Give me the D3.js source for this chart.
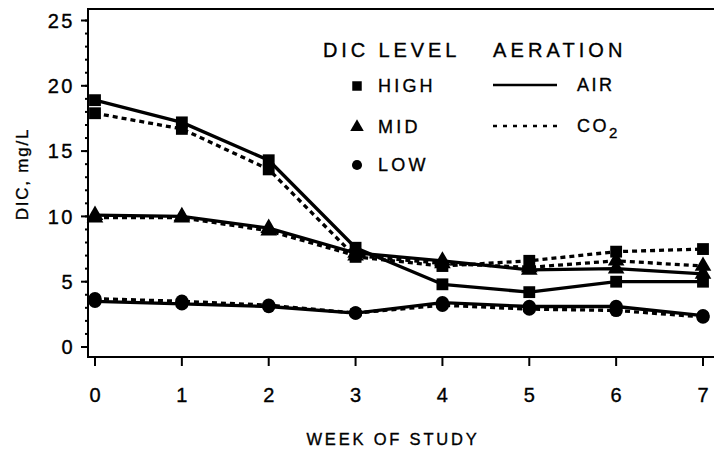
<!DOCTYPE html>
<html>
<head>
<meta charset="utf-8">
<script src="https://cdn.jsdelivr.net/npm/d3@7"></script>
<style>
  html, body { margin: 0; padding: 0; background: #fff; }
  svg { display: block; }
  text { font-family: "Liberation Sans", Arial, Helvetica, sans-serif; fill: #000; stroke: #000; stroke-width: 0.35px; }
</style>
</head>
<body>
<svg id="chart" width="714" height="451"></svg>
<script>
// Weeks of the study
const weeks = [0, 1, 2, 3, 4, 5, 6, 7];

// DIC (mg/L) by DIC level and aeration treatment
const highAir = [18.9, 17.2, 14.3, 7.6, 4.8, 4.2, 5.0, 5.0];
const highCO2 = [17.9, 16.7, 13.6, 6.9, 6.2, 6.6, 7.3, 7.5];
const midAir  = [10.1, 10.0, 9.1, 7.2, 6.6, 5.9, 6.0, 5.6];
const midCO2  = [9.9, 9.9, 8.9, 7.0, 6.4, 6.1, 6.6, 6.2];
const lowAir  = [3.5, 3.3, 3.1, 2.6, 3.4, 3.1, 3.1, 2.4];
const lowCO2  = [3.7, 3.5, 3.2, 2.6, 3.2, 2.9, 2.8, 2.3];

const yTicks = [0, 5, 10, 15, 20, 25];
const xTicks = [0, 1, 2, 3, 4, 5, 6, 7];

const series = [
  { level: "HIGH", aeration: "AIR", values: highAir },
  { level: "HIGH", aeration: "CO2", values: highCO2 },
  { level: "MID",  aeration: "AIR", values: midAir },
  { level: "MID",  aeration: "CO2", values: midCO2 },
  { level: "LOW",  aeration: "AIR", values: lowAir },
  { level: "LOW",  aeration: "CO2", values: lowCO2 }
];

const svg = d3.select("#chart");

// Plot frame
const frame = { left: 88, right: 722, top: 9, bottom: 357 };

const x = d3.scaleLinear().domain([0, 7]).range([95, 703]);
const y = d3.scaleLinear().domain([0, 25]).range([347, 20.5]);

const ink = "#000";

// Frame lines: top border, left axis, bottom axis
svg.append("path")
  .attr("d", `M${frame.right},${frame.top} H${frame.left} V${frame.bottom} H${frame.right}`)
  .attr("fill", "none").attr("stroke", ink).attr("stroke-width", 2);

// Y axis: major ticks with labels, minor ticks every unit
const yMinor = d3.range(0, 26, 1);
svg.append("g").selectAll("line").data(yMinor).join("line")
  .attr("x1", frame.left - 3).attr("x2", frame.left)
  .attr("y1", d => y(d)).attr("y2", d => y(d))
  .attr("stroke", ink).attr("stroke-width", 2);

svg.append("g").selectAll("line").data(yTicks).join("line")
  .attr("x1", frame.left - 7).attr("x2", frame.left)
  .attr("y1", d => y(d)).attr("y2", d => y(d))
  .attr("stroke", ink).attr("stroke-width", 2);

svg.append("g").selectAll("text").data(yTicks).join("text")
  .attr("x", 75).attr("y", d => y(d))
  .attr("dy", "0.36em")
  .attr("text-anchor", "end")
  .attr("font-size", 20)
  .attr("letter-spacing", 2.5)
  .text(d => d);

// X axis: ticks hanging below the axis line
svg.append("g").selectAll("line").data(xTicks).join("line")
  .attr("x1", d => x(d)).attr("x2", d => x(d))
  .attr("y1", frame.bottom).attr("y2", frame.bottom + 9)
  .attr("stroke", ink).attr("stroke-width", 2);

svg.append("g").selectAll("text").data(xTicks).join("text")
  .attr("x", d => x(d)).attr("y", 395)
  .attr("dy", "0.36em")
  .attr("text-anchor", "middle")
  .attr("font-size", 20)
  .text(d => d);

// Axis titles
svg.append("text")
  .attr("x", 393).attr("y", 445)
  .attr("text-anchor", "middle")
  .attr("font-size", 16.5)
  .attr("letter-spacing", 2.8)
  .text("WEEK OF STUDY");

svg.append("text")
  .attr("transform", "translate(28,174) rotate(-90)")
  .attr("text-anchor", "middle")
  .attr("font-size", 17)
  .attr("letter-spacing", 1.8)
  .text("DIC, mg/L");

// Lines
const line = d3.line().x((d, i) => x(weeks[i])).y(d => y(d));
const dash = "5,4";

svg.append("g").selectAll("path").data(series).join("path")
  .attr("d", d => line(d.values))
  .attr("fill", "none")
  .attr("stroke", ink)
  .attr("stroke-width", 3.3)
  .attr("stroke-linejoin", "round")
  .attr("stroke-dasharray", d => d.aeration === "CO2" ? dash : null);

// Markers by DIC level
const symbolFor = {
  HIGH: d3.symbol().type(d3.symbolSquare).size(140),
  MID: d3.symbol().type(d3.symbolTriangle).size(120),
  LOW: d3.symbol().type(d3.symbolCircle).size(140)
};

series.forEach(s => {
  svg.append("g").selectAll("path").data(s.values).join("path")
    .attr("transform", (d, i) => `translate(${x(weeks[i])},${y(d)})`)
    .attr("d", symbolFor[s.level]())
    .attr("fill", ink);
});

// Legend
const legend = svg.append("g");
legend.append("text").attr("x", 323).attr("y", 57)
  .attr("font-size", 20).attr("letter-spacing", 3.9).text("DIC LEVEL");
legend.append("text").attr("x", 493).attr("y", 57)
  .attr("font-size", 20).attr("letter-spacing", 4.1).text("AERATION");

const levelItems = [
  { level: "HIGH", ly: 86 },
  { level: "MID", ly: 127 },
  { level: "LOW", ly: 165 }
];
levelItems.forEach(item => {
  legend.append("path")
    .attr("transform", `translate(357,${item.ly})`)
    .attr("d", d3.symbol().type(
      item.level === "HIGH" ? d3.symbolSquare :
      item.level === "MID" ? d3.symbolTriangle : d3.symbolCircle
    ).size(item.level === "HIGH" ? 90 : 80)())
    .attr("fill", ink);
  legend.append("text")
    .attr("x", 378).attr("y", item.ly)
    .attr("dy", "0.36em")
    .attr("font-size", 18).attr("letter-spacing", 3.2)
    .text(item.level);
});

const aerItems = [
  { aeration: "AIR", ly: 85 },
  { aeration: "CO2", ly: 126 }
];
aerItems.forEach(item => {
  legend.append("line")
    .attr("x1", 493).attr("x2", 557)
    .attr("y1", item.ly).attr("y2", item.ly)
    .attr("stroke", ink).attr("stroke-width", 2.5)
    .attr("stroke-dasharray", item.aeration === "CO2" ? "4,6" : null);
  const t = legend.append("text")
    .attr("x", 577).attr("y", item.ly)
    .attr("dy", "0.36em")
    .attr("font-size", 18).attr("letter-spacing", 2.5);
  if (item.aeration === "CO2") {
    t.append("tspan").text("CO");
    t.append("tspan").attr("font-size", 15).attr("dy", "0.35em").text("2");
  } else {
    t.text("AIR");
  }
});
</script>
</body>
</html>
